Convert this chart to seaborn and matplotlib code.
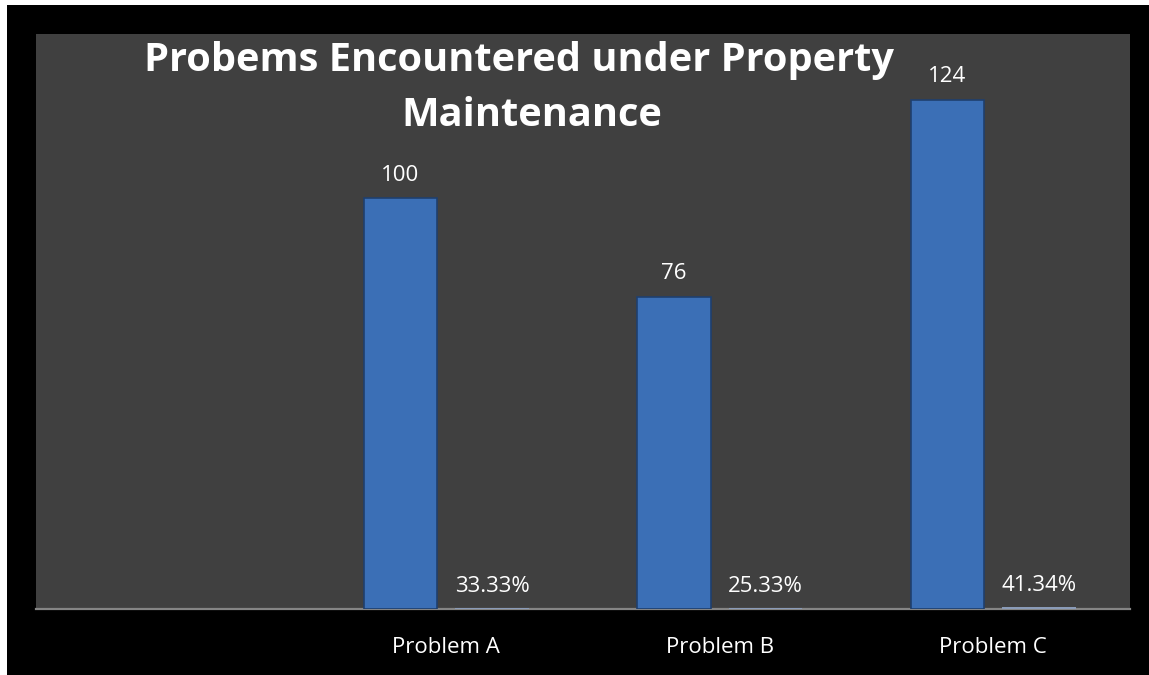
import matplotlib
matplotlib.use("Agg")
import matplotlib.pyplot as plt
import seaborn as sns
import pandas as pd
from matplotlib.patches import Rectangle

# data
categories = ["Problem A", "Problem B", "Problem C"]
counts = [100, 76, 124]
percents = [33.33, 25.33, 41.34]
order = [""] + categories   # Excel chart keeps an empty first slot

df = pd.DataFrame({
    "Category": categories * 2,
    "Series": ["Count"] * 3 + ["Percent"] * 3,
    "Value": counts + [p / 100 for p in percents],
})

sns.set_theme(style="white")
plt.rcParams["font.family"] = ["Open Sans", "DejaVu Sans"]

fig = plt.figure(figsize=(11.49, 6.75), dpi=100, facecolor="white")
# black chart area (thin white strip top/left as in the reference)
fig.patches.append(Rectangle((7/1149, 0), 1, 670/675, transform=fig.transFigure,
                             facecolor="black", edgecolor="none", zorder=-10))

ax = fig.add_axes([36/1149, (675-609)/675, 1094/1149, 575/675])
ax.set_facecolor("#404040")

sns.barplot(data=df, x="Category", y="Value", hue="Series", order=order,
            hue_order=["Count", "Percent"], palette=["#3b6fb6", "#8a9bb8"],
            saturation=1, width=0.67, gap=0.2, linewidth=0,
            legend=False, ax=ax)
for bar in ax.containers[0]:
    bar.set_edgecolor("#1f3f6e")
    bar.set_linewidth(1.2)

ax.set_ylim(0, 140)
ax.set_xlim(-0.5, 3.5)
ax.set_yticks([])
ax.set_xlabel("")
ax.set_ylabel("")
for s in ["top", "left", "right"]:
    ax.spines[s].set_visible(False)
ax.spines["bottom"].set_color("#858585")
ax.spines["bottom"].set_linewidth(1.6)
ax.spines["bottom"].set_zorder(0.5)
ax.tick_params(axis="x", length=0, pad=20, labelsize=16, colors="white")

ax.bar_label(ax.containers[0], labels=[str(v) for v in counts],
             padding=9, color="white", fontsize=16)
ax.bar_label(ax.containers[1], labels=[f"{p:.2f}%" for p in percents],
             padding=8, color="white", fontsize=16)

fig.text(519/1149, 1 - 60/675, "Probems Encountered under Property",
         ha="center", va="center", color="white", fontsize=28.6, fontweight="bold")
fig.text(532/1149, 1 - 115/675, "Maintenance",
         ha="center", va="center", color="white", fontsize=28.6, fontweight="bold")

fig.savefig("out.png", dpi=100, facecolor=fig.get_facecolor())
